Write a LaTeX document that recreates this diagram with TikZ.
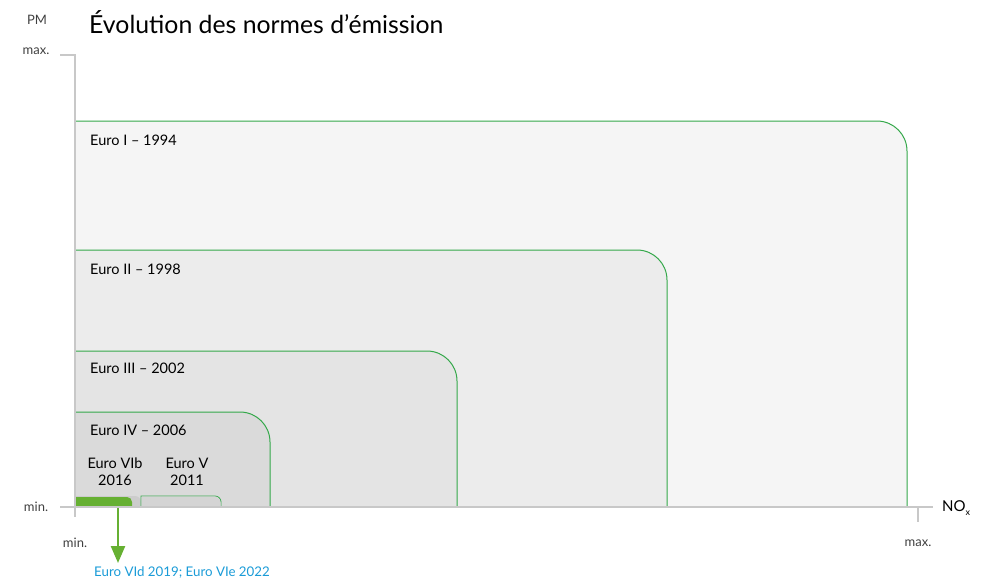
\documentclass[tikz,border=0pt]{standalone}
\usepackage{fontspec}
\setmainfont{Lato}
\usepackage{xcolor}
\usetikzlibrary{arrows.meta,positioning,calc}
\definecolor{normgreen}{RGB}{52,168,74}
\definecolor{barGreen}{RGB}{102,176,50}
\definecolor{noteBlue}{RGB}{26,155,215}
\definecolor{axisGray}{RGB}{200,200,200}

\begin{document}
\begin{tikzpicture}[x=1pt, y=-1pt,
    norm/.style={draw=normgreen, line width=1pt},
    stage/.style={anchor=west, font=\fontsize{14.5}{16}\selectfont, inner sep=0pt},
    small/.style={font=\fontsize{13}{15}\selectfont, text=black!75, inner sep=0pt},
    axis/.style={draw=axisGray, line width=1.4pt}]
    \useasboundingbox (0,0) rectangle (985,579);

    % Euro I
    \fill[black!4] (75,507) -- (75,121) [rounded corners=30pt] -- (907,121) [sharp corners] -- (907,507) -- cycle;
    \draw[norm] (75,507) -- (75,121) [rounded corners=30pt] -- (907,121) [sharp corners] -- (907,507);
    \node[stage] (euro1) at (90,140) {Euro I -- 1994};

    % Euro II
    \fill[black!7.5] (75,507) -- (75,250) [rounded corners=30pt] -- (667,250) [sharp corners] -- (667,507) -- cycle;
    \draw[norm] (75,507) -- (75,250) [rounded corners=30pt] -- (667,250) [sharp corners] -- (667,507);
    \node[stage] (euro2) at (90,269) {Euro II -- 1998};

    % Euro III
    \fill[black!10.5] (75,507) -- (75,351) [rounded corners=30pt] -- (457,351) [sharp corners] -- (457,507) -- cycle;
    \draw[norm] (75,507) -- (75,351) [rounded corners=30pt] -- (457,351) [sharp corners] -- (457,507);
    \node[stage] (euro3) at (90,368) {Euro III -- 2002};

    % Euro IV
    \fill[black!14.5] (75,507) -- (75,412) [rounded corners=30pt] -- (270,412) [sharp corners] -- (270,507) -- cycle;
    \draw[norm] (75,507) -- (75,412) [rounded corners=30pt] -- (270,412) [sharp corners] -- (270,507);
    \node[stage] (euro4) at (90,430) {Euro IV -- 2006};

    % Euro VIb and Euro V
    \fill[black!20] (75,507) -- (75,496) [rounded corners=6pt] -- (141,496) [sharp corners] -- (141,507) -- cycle;
    \draw[norm, line width=0.8pt] (141,507) -- (141,496) [rounded corners=6pt] -- (221,496) [sharp corners] -- (221,507);
    \fill[black!17] (141.5,507) -- (141.5,496.5) [rounded corners=6pt] -- (220.5,496.5) [sharp corners] -- (220.5,507) -- cycle;
    \node[stage, anchor=center, align=center] (euro6b) at (115,472) {Euro VIb\\[1pt]2016};
    \node[stage, anchor=center, align=center] (euro5) at (187,472) {Euro V\\[1pt]2011};

    % Euro VId / VIe
    \fill[barGreen] (75,507) -- (75,497) [rounded corners=5pt] -- (132,497) [sharp corners] -- (132,507) -- cycle;
    \coordinate (bar) at (118,507);
    \node[font=\fontsize{13.3}{15}\selectfont, text=noteBlue, inner sep=0pt] (euro6d) at (182,572) {Euro VId 2019; Euro VIe 2022};
    \draw[barGreen, line width=2.4pt, -{Triangle[width=14pt,length=17pt]}] (bar) -- (bar |- 0,563);

    % axes
    \coordinate (origin) at (75,507);
    \draw[axis] (60,55) -- (75,55) -- (75,517);
    \draw[axis] (60,507) -- (933,507);
    \draw[axis] (918,507) -- (918,522);
    \node[small] (pm) at (37,20) {PM};
    \node[small] (ymax) at (36,51) {max.};
    \node[small] (ymin) at (36,507) {min.};
    \node[small] (xmin) at (75,543) {min.};
    \node[small] (xmax) at (918,543) {max.};
    \node[font=\fontsize{15}{17}\selectfont, inner sep=0pt] (nox) at (956,508) {NO\raisebox{-4pt}{\fontsize{9}{10}\selectfont x}};

    % title
    \node[anchor=west, font=\fontsize{24.8}{28}\selectfont, inner sep=0pt] (title) at (89,22) {Évolution des normes d’émission};
\end{tikzpicture}
\end{document}
